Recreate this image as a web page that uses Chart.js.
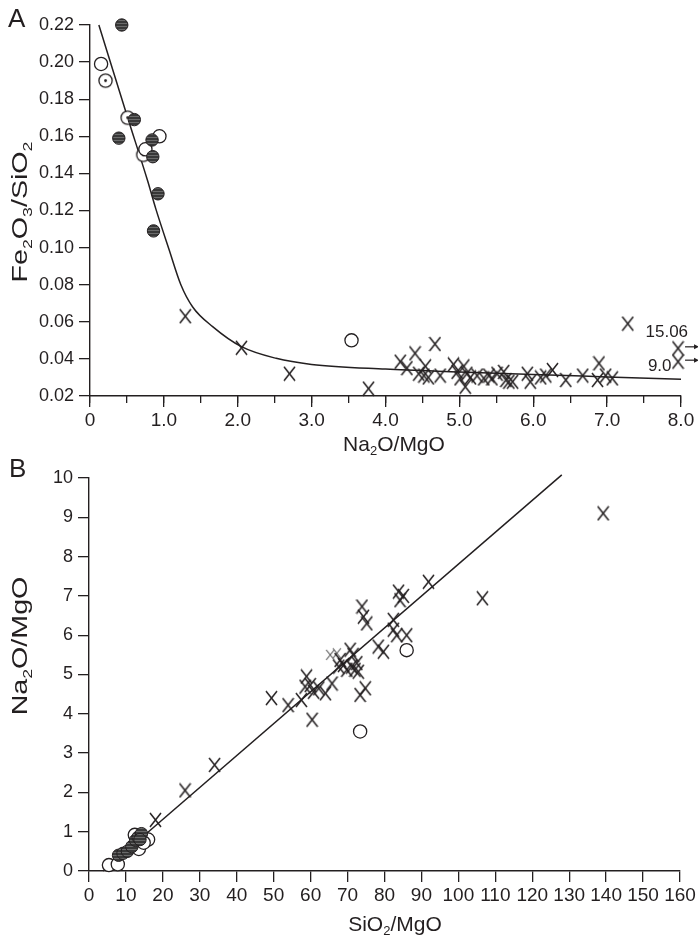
<!DOCTYPE html>
<html>
<head>
<meta charset="utf-8">
<script src="https://cdn.jsdelivr.net/npm/chart.js@4.4.1/dist/chart.umd.min.js"></script>
<style>
  html, body { margin: 0; padding: 0; background: #fff; }
  #wrap { position: relative; width: 698px; height: 938px; overflow: hidden;
          font-family: "Liberation Sans", Arial, sans-serif; color: #231f20; }
  canvas { position: absolute; left: 0; }
  #cA { top: 0; }
  #cB { top: 460px; }
  .lbl { position: absolute; white-space: nowrap; font-size: 21px; line-height: 1; }
  .lbl sub { font-size: 0.62em; vertical-align: -0.35em; line-height: 0; }
  .rot { font-size: 22px; transform: translate(-50%, -50%) rotate(-90deg) scaleX(1.3); }
  .hz { transform: translate(-50%, -50%); }
  .panel { position: absolute; font-size: 26px; line-height: 1; }
</style>
</head>
<body>
<div id="wrap">
  <canvas id="cA" width="698" height="460"></canvas>
  <canvas id="cB" width="698" height="478"></canvas>
  <div class="panel" style="left:8px;top:5px;">A</div>
  <div class="panel" style="left:9px;top:455px;">B</div>
  <div class="lbl rot" style="left:20px;top:212px;">Fe<sub>2</sub>O<sub>3</sub>/SiO<sub>2</sub></div>
  <div class="lbl hz" style="left:394px;top:443px;">Na<sub>2</sub>O/MgO</div>
  <div class="lbl rot" style="left:20px;top:646px;">Na<sub>2</sub>O/MgO</div>
  <div class="lbl hz" style="left:395px;top:923px;">SiO<sub>2</sub>/MgO</div>
</div>
<script>
(function () {
  "use strict";

  var INK = "#231f20";
  var FONT = '"Liberation Sans", Arial, sans-serif';

  // ---- panel A : Fe2O3/SiO2 vs Na2O/MgO ----
  var A_FILLED = [[0.43, 0.220], [0.60, 0.169], [0.39, 0.159], [0.84, 0.158],
                  [0.85, 0.149], [0.92, 0.129], [0.86, 0.109]];
  var A_OPEN = [[0.15, 0.199], [0.94, 0.160], [0.75, 0.153], [3.54, 0.050]];
  var A_DOTTED = [[0.21, 0.190], [0.51, 0.170], [0.72, 0.150]];
  var A_CROSS = [[1.29, 0.063], [2.05, 0.046], [2.70, 0.032], [3.77, 0.024],
                 [4.20, 0.0385], [4.29, 0.035], [4.40, 0.043], [4.45, 0.032],
                 [4.54, 0.036], [4.52, 0.031], [4.58, 0.030], [4.67, 0.048],
                 [4.74, 0.031], [4.92, 0.037], [4.97, 0.033], [5.01, 0.0295],
                 [5.06, 0.036], [5.08, 0.025], [5.10, 0.032], [5.15, 0.030],
                 [5.24, 0.031], [5.33, 0.0295], [5.40, 0.031], [5.44, 0.0295],
                 [5.51, 0.032], [5.60, 0.033], [5.63, 0.0286], [5.67, 0.0277],
                 [5.72, 0.0277], [5.92, 0.032], [5.96, 0.0277], [6.10, 0.030],
                 [6.17, 0.031], [6.26, 0.034], [6.44, 0.0286], [6.67, 0.031],
                 [6.89, 0.0376], [6.87, 0.0286], [6.98, 0.031], [7.07, 0.0295],
                 [7.28, 0.059]];
  // points beyond the axis range, drawn at the right edge with their real value
  var A_OFFSCALE_X = [7.96, 7.96];
  var A_OFFSCALE_Y = [0.0457, 0.0385];
  var A_OFFSCALE_LABEL = ["15.06", "9.0"];
  var A_CURVE = [[0.12, 0.220], [0.51, 0.170], [0.78, 0.136], [0.89, 0.121],
                 [1.07, 0.099], [1.23, 0.080], [1.39, 0.068], [1.66, 0.0574],
                 [2.05, 0.0466], [2.52, 0.0403], [3.0, 0.0370], [4.0, 0.0345],
                 [5.0, 0.0330], [6.0, 0.0316], [7.0, 0.0303], [8.0, 0.0290]];
  var A_X_RANGE = [0, 8], A_X_STEP = 1, A_X_MINOR = 0.5;
  var A_Y_RANGE = [0.02, 0.22], A_Y_STEP = 0.02;

  // ---- panel B : Na2O/MgO vs SiO2/MgO ----
  var B_FILLED = [[8.0, 0.40], [9.2, 0.45], [10.4, 0.50], [11.6, 0.62],
                  [12.6, 0.78], [13.3, 0.86], [14.2, 0.95], [13.8, 0.80]];
  var B_OPEN = [[5.4, 0.15], [7.8, 0.17], [12.4, 0.92], [13.5, 0.56],
                [16.0, 0.80], [14.8, 0.72], [73.4, 3.55], [86.0, 5.62]];
  var B_CROSS = [[18.0, 1.30], [26.0, 2.05], [34.0, 2.70], [49.4, 4.40],
                 [53.9, 4.22], [57.5, 4.35], [58.9, 4.95], [58.5, 4.69],
                 [59.9, 4.73], [60.4, 3.85], [60.8, 4.56], [62.2, 4.65],
                 [64.0, 4.52], [65.8, 4.77], [68.0, 5.37], [67.6, 5.20],
                 [68.9, 5.24], [69.8, 5.12], [70.7, 5.63], [71.1, 5.20],
                 [72.0, 5.12], [72.5, 5.29], [72.9, 5.07], [71.5, 5.50],
                 [73.4, 4.48], [74.8, 4.65], [73.9, 6.73], [74.3, 6.47],
                 [75.2, 6.30], [78.3, 5.71], [79.7, 5.58], [82.4, 6.39],
                 [82.4, 6.14], [83.8, 7.11], [85.1, 7.00], [84.2, 6.89],
                 [83.3, 6.00], [86.0, 6.00], [91.9, 7.36], [106.5, 6.94],
                 [139.2, 9.10]];
  var B_SMALL_CROSS = [[65.3, 5.50], [67.1, 5.54]];
  var B_FIT = [[3.8, 0.0], [128.0, 10.08]];
  var B_X_RANGE = [0, 160], B_X_STEP = 10;
  var B_Y_RANGE = [0, 10], B_Y_STEP = 1;

  function pts(arr) { return arr.map(function (p) { return { x: p[0], y: p[1] }; }); }

  // marker glyphs
  function crossImg(w, h, lw, col) {
    var c = document.createElement("canvas");
    c.width = w + 2; c.height = h + 2;
    var g = c.getContext("2d");
    g.strokeStyle = col; g.lineWidth = lw;
    g.beginPath();
    g.moveTo(1, 1); g.lineTo(w + 1, h + 1);
    g.moveTo(w + 1, 1); g.lineTo(1, h + 1);
    g.stroke();
    return c;
  }
  function dottedCircleImg() {
    var c = document.createElement("canvas");
    c.width = 17; c.height = 17;
    var g = c.getContext("2d");
    g.beginPath(); g.arc(8.5, 8.5, 6.6, 0, Math.PI * 2);
    g.fillStyle = "#fff"; g.fill();
    g.lineWidth = 1.3; g.strokeStyle = INK; g.stroke();
    g.beginPath(); g.arc(8.5, 8.5, 1.4, 0, Math.PI * 2);
    g.fillStyle = INK; g.fill();
    return c;
  }
  function stripes(ctx) {
    var c = document.createElement("canvas");
    c.width = 4; c.height = 3;
    var g = c.getContext("2d");
    g.fillStyle = "#383838"; g.fillRect(0, 0, 4, 3);
    g.fillStyle = "#6a6a6a"; g.fillRect(0, 2, 4, 1);
    return ctx.createPattern(c, "repeat");
  }

  var CROSS = crossImg(11, 14, 1.5, INK);
  var SMALL_CROSS = crossImg(8, 10, 1.1, "#555");
  var DOTTED = dottedCircleImg();

  function filledSet(data, ctx) {
    return { data: pts(data), pointStyle: "circle", pointRadius: 6.2,
             backgroundColor: stripes(ctx), borderColor: INK, borderWidth: 1,
             showLine: false, clip: false, order: 1 };
  }
  function openSet(data) {
    return { data: pts(data), pointStyle: "circle", pointRadius: 6.6,
             backgroundColor: "#fff", borderColor: INK, borderWidth: 1.3,
             showLine: false, clip: false, order: 2 };
  }
  function imgSet(data, img, order) {
    return { data: pts(data), pointStyle: img, pointRadius: 6,
             showLine: false, clip: false, order: order };
  }
  function lineSet(data, smooth) {
    return { data: pts(data), showLine: true, pointRadius: 0, borderColor: INK,
             borderWidth: 1.5, fill: false, clip: false, order: 5,
             cubicInterpolationMode: smooth ? "monotone" : "default" };
  }

  function axisX(range, step, labelFn, h) {
    return {
      type: "linear", position: "bottom", min: range[0], max: range[1],
      grid: { drawOnChartArea: false, drawTicks: true, tickLength: 11, color: INK, lineWidth: 1.3 },
      border: { display: true, color: INK, width: 1.4 },
      ticks: { stepSize: step, autoSkip: false, maxRotation: 0, padding: 2, color: INK,
               font: { family: FONT, size: 19 }, callback: labelFn },
      afterFit: function (s) { s.height = h; }
    };
  }
  function axisY(range, step, labelFn, w) {
    return {
      type: "linear", position: "left", min: range[0], max: range[1],
      grid: { drawOnChartArea: false, drawTicks: true, tickLength: 11, color: INK, lineWidth: 1.3 },
      border: { display: true, color: INK, width: 1.4 },
      ticks: { stepSize: step, autoSkip: false, padding: 5, color: INK,
               font: { family: FONT, size: 18 }, callback: labelFn },
      afterFit: function (s) { s.width = w; }
    };
  }

  function baseOpts(scales, padding) {
    return {
      responsive: false, animation: false, devicePixelRatio: 1,
      layout: { padding: padding },
      plugins: { legend: { display: false }, tooltip: { enabled: false } },
      scales: scales
    };
  }

  // arrows and value labels for the two off-scale points
  var OFFSCALE_TEXT_POS = [{ dx: 10, dy: -16.5 }, { dx: -6.5, dy: 5 }];
  var offscalePlugin = {
    id: "offscale",
    afterDatasetsDraw: function (chart) {
      var c = chart.ctx, xs = chart.scales.x, ys = chart.scales.y;
      c.save();
      c.fillStyle = INK; c.strokeStyle = INK; c.lineWidth = 1.2;
      c.font = "17px " + FONT; c.textBaseline = "middle"; c.textAlign = "right";
      A_OFFSCALE_LABEL.forEach(function (label, i) {
        var px = xs.getPixelForValue(A_OFFSCALE_X[i]);
        var py = ys.getPixelForValue(A_OFFSCALE_Y[i]);
        c.fillText(label, px + OFFSCALE_TEXT_POS[i].dx, py + OFFSCALE_TEXT_POS[i].dy);
        var ay = py - 1.5;
        c.beginPath(); c.moveTo(px + 7, ay); c.lineTo(px + 17, ay); c.stroke();
        c.beginPath(); c.moveTo(px + 21, ay); c.lineTo(px + 16, ay - 2.5);
        c.lineTo(px + 16, ay + 2.5); c.closePath(); c.fill();
      });
      c.restore();
    }
  };

  // ---- chart A ----
  var ctxA = document.getElementById("cA").getContext("2d");
  var scalesA = {
    x: axisX(A_X_RANGE, A_X_STEP, function (v) { return v === 0 ? "0" : v.toFixed(1); }, 40),
    y: axisY(A_Y_RANGE, A_Y_STEP, function (v) { return v.toFixed(2); }, 90),
    xMinor: {
      type: "linear", axis: "x", position: { y: A_Y_RANGE[0] },
      min: A_X_RANGE[0], max: A_X_RANGE[1],
      grid: { drawOnChartArea: false, drawTicks: true, tickLength: 7, color: INK, lineWidth: 1.3 },
      border: { display: false },
      ticks: { stepSize: A_X_MINOR, autoSkip: false, callback: function () { return ""; } }
    }
  };
  new Chart(ctxA, {
    type: "scatter",
    data: {
      datasets: [
        lineSet(A_CURVE, true),
        openSet(A_OPEN),
        imgSet(A_DOTTED, DOTTED, 2),
        filledSet(A_FILLED, ctxA),
        imgSet(A_CROSS.concat(A_OFFSCALE_X.map(function (x, i) { return [x, A_OFFSCALE_Y[i]]; })), CROSS, 0)
      ]
    },
    options: baseOpts(scalesA, { top: 25, right: 17, bottom: 24, left: 0 }),
    plugins: [offscalePlugin]
  });

  // ---- chart B ----
  var ctxB = document.getElementById("cB").getContext("2d");
  var scalesB = {
    x: axisX(B_X_RANGE, B_X_STEP, function (v) { return String(v); }, 40),
    y: axisY(B_Y_RANGE, B_Y_STEP, function (v) { return String(v); }, 89)
  };
  new Chart(ctxB, {
    type: "scatter",
    data: {
      datasets: [
        lineSet(B_FIT, false),
        filledSet(B_FILLED, ctxB),
        openSet(B_OPEN),
        imgSet(B_CROSS, CROSS, 0),
        imgSet(B_SMALL_CROSS, SMALL_CROSS, 0)
      ]
    },
    options: baseOpts(scalesB, { top: 18, right: 18, bottom: 27, left: 0 })
  });
})();
</script>
</body>
</html>
